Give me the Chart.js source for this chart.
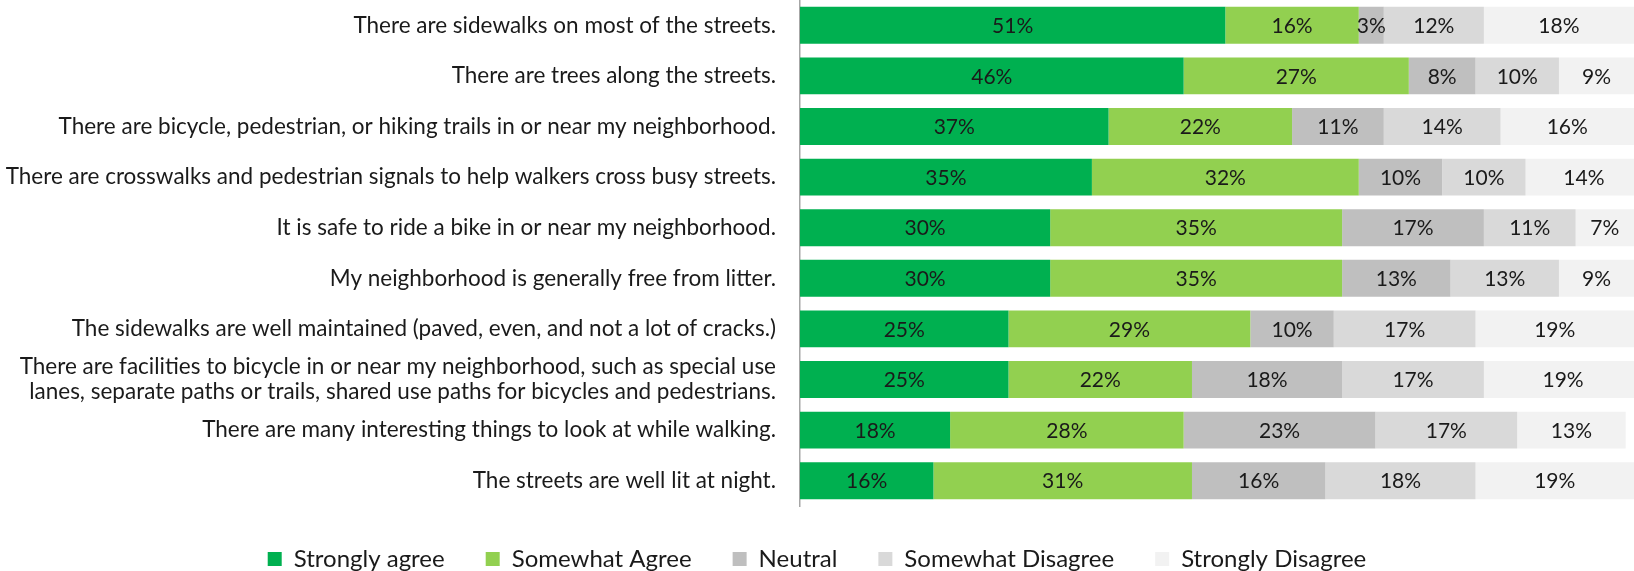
<!DOCTYPE html>
<html lang="en">
<head>
  <meta charset="UTF-8" />
  <title>Neighborhood walkability</title>
  <script src="https://cdn.jsdelivr.net/npm/chart.js"></script>
  <style>
    html, body {
      margin: 0;
      padding: 0;
      background: #ffffff;
    }
    .wrap {
      width: 1634px;
      height: 571px;
    }
  </style>
</head>
<body>
  <div class="wrap">
    <canvas id="chart"></canvas>
  </div>

<script>
  // statements (y axis), top to bottom
  const statements = [
    'There are sidewalks on most of the streets.',
    'There are trees along the streets.',
    'There are bicycle, pedestrian, or hiking trails in or near my neighborhood.',
    'There are crosswalks and pedestrian signals to help walkers cross busy streets.',
    'It is safe to ride a bike in or near my neighborhood.',
    'My neighborhood is generally free from litter.',
    'The sidewalks are well maintained (paved, even, and not a lot of cracks.)',
    ['There are facilities to bicycle in or near my neighborhood, such as special use',
     'lanes, separate paths or trails, shared use paths for bicycles and pedestrians.'],
    'There are many interesting things to look at while walking.',
    'The streets are well lit at night.'
  ];

  const responses = ['Strongly agree', 'Somewhat Agree', 'Neutral', 'Somewhat Disagree', 'Strongly Disagree'];

  // percentages per response
  const stronglyAgree    = [51, 46, 37, 35, 30, 30, 25, 25, 18, 16];
  const somewhatAgree    = [16, 27, 22, 32, 35, 35, 29, 22, 28, 31];
  const neutral          = [ 3,  8, 11, 10, 17, 13, 10, 18, 23, 16];
  const somewhatDisagree = [12, 10, 14, 10, 11, 13, 17, 17, 17, 18];
  const stronglyDisagree = [18,  9, 16, 14,  7,  9, 19, 19, 13, 19];

  const colors = ['#00b050', '#92d050', '#bfbfbf', '#d9d9d9', '#f2f2f2'];

  const FONT = 'Lato, "Noto Sans", sans-serif';

  // writes the value in the middle of each segment
  const barLabels = {
    id: 'barLabels',
    afterDatasetsDraw(chart) {
      const ctx = chart.ctx;
      ctx.save();
      ctx.font = '21px ' + FONT;
      ctx.fillStyle = '#1a1a1a';
      ctx.textAlign = 'center';
      ctx.textBaseline = 'middle';
      chart.data.datasets.forEach((ds, i) => {
        const meta = chart.getDatasetMeta(i);
        meta.data.forEach((bar, j) => {
          const v = ds.data[j];
          if (!v) return;
          const cx = (bar.x + bar.base) / 2;
          ctx.fillText(v + '%', cx, bar.y + 1);
        });
      });
      ctx.restore();
    }
  };

  const series = [stronglyAgree, somewhatAgree, neutral, somewhatDisagree, stronglyDisagree];

  new Chart(document.getElementById('chart'), {
    type: 'bar',
    data: {
      labels: statements,
      datasets: responses.map((r, i) => ({
        label: r,
        data: series[i],
        backgroundColor: colors[i],
        borderWidth: 0,
        barPercentage: 0.73,
        categoryPercentage: 1
      }))
    },
    options: {
      indexAxis: 'y',
      responsive: true,
      maintainAspectRatio: false,
      animation: false,
      layout: { padding: 0 },
      scales: {
        x: {
          stacked: true,
          min: 0,
          max: 100,
          display: false
        },
        y: {
          stacked: true,
          grid: { display: false, drawTicks: false },
          border: { display: true, color: '#a6a6a6', width: 1.5 },
          ticks: {
            autoSkip: false,
            color: '#1a1a1a',
            padding: 24,
            font: { family: FONT, size: 22.5, lineHeight: 1.12 }
          },
          afterFit(scale) {
            scale.width = 800;
            scale.paddingTop = 0;
            scale.paddingBottom = 0;
          }
        }
      },
      plugins: {
        tooltip: { enabled: false },
        legend: {
          position: 'bottom',
          maxHeight: 65,
          labels: {
            boxWidth: 14,
            boxHeight: 14,
            padding: 41,
            color: '#1a1a1a',
            font: { family: FONT, size: 24 }
          }
        }
      }
    },
    plugins: [barLabels]
  });
</script>
</body>
</html>
